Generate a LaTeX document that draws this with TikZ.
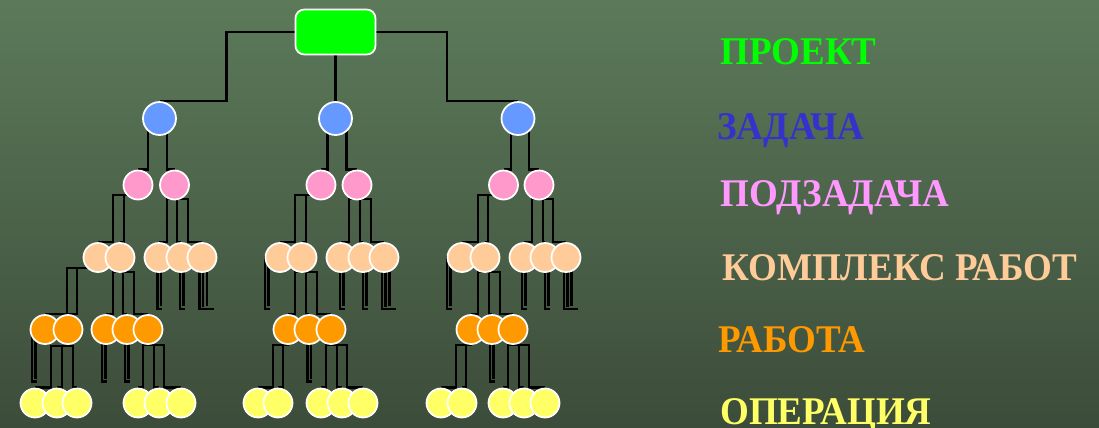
\documentclass[tikz,border=0pt]{standalone}
\usepackage{fontspec}
\setmainfont{Liberation Serif}
\pgfdeclarelayer{backdrop}
\pgfdeclarelayer{wires}
\pgfsetlayers{backdrop,wires,main}
\definecolor{bgtop}{RGB}{92,122,90}
\definecolor{bgbot}{RGB}{60,76,58}
\definecolor{cproj}{RGB}{0,255,0}
\definecolor{ctask}{RGB}{102,153,255}
\definecolor{ctasktxt}{RGB}{51,51,204}
\definecolor{csub}{RGB}{255,153,204}
\definecolor{csubtxt}{RGB}{255,153,255}
\definecolor{cpack}{RGB}{255,204,153}
\definecolor{cwork}{RGB}{255,153,0}
\definecolor{cop}{RGB}{255,255,102}
% parent -> child elbow connector through a bus point offset from the parent
\newcommand\bus[4]{\draw[wire] (#1.center) |- ([shift={(#3,#4)}]#1.center) |- (#2.north);}
% short open connector hanging below a node
\newcommand\dangle[3]{%
  \draw[wire] (#1.center) -| ([shift={(#2,#3)}]#1.center) -- ++(4.5,0);
  \draw[wire] (#1.center) -| ([shift={(#2+3.5,#3-3)}]#1.center);}
\newcommand\dangletriple[3]{%
  \draw[wire] (#1.center) -| ([shift={(#2,#3)}]#1.center) -- ++(14,0);
  \draw[wire] (#1.center) -| ([shift={(#2+3.5,#3-2)}]#1.center);
  \draw[wire] (#1.center) -| ([shift={(#2+7.5,#3-3)}]#1.center);}
\newcommand\legendtext[1]{\scalebox{0.945}[1]{#1}}
\begin{document}
\begin{tikzpicture}[x=0.02cm,y=-0.02cm,
  wire/.style={draw=black,line width=1.4pt},
  ball/.style={circle,draw=white,line width=1pt,inner sep=0pt,minimum size=0.58cm},
  task/.style={ball,fill=ctask,minimum size=0.66cm},
  sub/.style={ball,fill=csub},
  pack/.style={ball,fill=cpack},
  work/.style={ball,fill=cwork},
  op/.style={ball,fill=cop},
  legend/.style={anchor=base west,inner sep=0pt,font=\fontsize{22.3}{26}\selectfont\bfseries}]
\begin{pgfonlayer}{backdrop}
  \shade[top color=bgtop,bottom color=bgbot] (0,0) rectangle (1099,427);
\end{pgfonlayer}
\useasboundingbox (0,0) rectangle (1099,427);

% project
\node[draw=white,line width=1pt,fill=cproj,rounded corners=5pt,minimum width=1.6cm,minimum height=0.9cm,inner sep=0pt] (pr) at (335.5,32) {};

% tasks
\node[task] (b1) at (159.5,118.5) {};
\node[task] (b2) at (335.5,118.5) {};
\node[task] (b3) at (518,118.5) {};

% subtasks
\node[sub] (pa1) at (138,185) {};
\node[sub] (pa2) at (174.5,185) {};
\node[sub] (pb1) at (321,185) {};
\node[sub] (pb2) at (357,185) {};
\node[sub] (pc1) at (503.5,185) {};
\node[sub] (pc2) at (539,185) {};

% work packages
\foreach \n/\x in {qa1/98,qa2/120,qa3/159,qa4/181,qa5/202,
                   qb1/280,qb2/302,qb3/341,qb4/363,qb5/384,
                   qc1/462,qc2/485,qc3/524,qc4/545,qc5/566}
  \node[pack] (\n) at (\x,257.5) {};

% works
\foreach \n/\x in {oa1/45,oa2/68,oa3/106,oa4/127,oa5/148,
                   ob1/288,ob2/309,ob3/331,
                   oc1/471,oc2/492,oc3/513}
  \node[work] (\n) at (\x,329.5) {};

% operations
\foreach \n/\x in {ya1/35,ya2/57,ya3/77,ya4/138,ya5/159,ya6/181,
                   yb1/258,yb2/278,yb3/321,yb4/342,yb5/363,
                   yc1/441,yc2/462,yc3/503,yc4/524,yc5/545}
  \node[op] (\n) at (\x,403) {};

\begin{pgfonlayer}{wires}
  % project -> tasks
  \draw[wire] (pr.center) -| ([shift={(-109,34)}]pr.center) |- (b1.north);
  \draw[wire] (pr.center) -- (b2.north);
  \draw[wire] (pr.center) -| ([shift={(111.5,34)}]pr.center) |- (b3.north);
  % tasks -> subtasks
  \bus{b1}{pa1}{-11.5}{0} \bus{b1}{pa2}{7.5}{0}
  \bus{b2}{pb1}{-8}{0}    \bus{b2}{pb2}{11}{0}
  \bus{b3}{pc1}{-7}{0}    \bus{b3}{pc2}{11}{0}
  % subtasks -> work packages
  \bus{pa1}{qa1}{-25}{10} \bus{pa1}{qa2}{-14}{10}
  \bus{pa2}{qa3}{-7.5}{14} \bus{pa2}{qa4}{2.5}{14} \bus{pa2}{qa5}{13.5}{14}
  \bus{pb1}{qb1}{-26}{10} \bus{pb1}{qb2}{-15}{10}
  \bus{pb2}{qb3}{-8}{14} \bus{pb2}{qb4}{3}{14} \bus{pb2}{qb5}{14}{14}
  \bus{pc1}{qc1}{-25.5}{10} \bus{pc1}{qc2}{-15.5}{10}
  \bus{pc2}{qc3}{-7}{14} \bus{pc2}{qc4}{4}{14} \bus{pc2}{qc5}{14}{14}
  % work packages -> works
  \bus{qa1}{oa1}{-31}{10.5} \bus{qa1}{oa2}{-21}{10.5}
  \bus{qa2}{oa3}{-7}{14.5} \bus{qa2}{oa4}{3}{14.5} \bus{qa2}{oa5}{14}{14.5}
  \bus{qb2}{ob1}{-7}{14.5} \bus{qb2}{ob2}{4}{14.5} \bus{qb2}{ob3}{15}{14.5}
  \bus{qc2}{oc1}{-7}{14.5} \bus{qc2}{oc2}{4}{14.5} \bus{qc2}{oc3}{15}{14.5}
  \dangle{qa3}{-1.5}{51.5} \dangle{qa4}{-1}{51.5} \dangletriple{qa5}{-2.5}{51.5}
  \dangle{qb1}{-15}{51.5} \dangle{qb3}{-1}{51.5} \dangle{qb4}{0}{51.5} \dangletriple{qb5}{-2}{51.5}
  \dangle{qc1}{-15}{51.5} \dangle{qc3}{-2}{51.5} \dangle{qc4}{0}{51.5} \dangletriple{qc5}{-2}{51.5}
  % works -> operations
  \bus{oa2}{ya1}{-17}{16.5} \bus{oa2}{ya2}{-6}{16.5} \bus{oa2}{ya3}{5}{16.5}
  \bus{oa5}{ya4}{-5}{15.5} \bus{oa5}{ya5}{6}{15.5} \bus{oa5}{ya6}{16}{15.5}
  \bus{ob1}{yb1}{-15}{15.5} \bus{ob1}{yb2}{-5}{15.5}
  \bus{ob3}{yb3}{-5}{15.5} \bus{ob3}{yb4}{6}{15.5} \bus{ob3}{yb5}{16}{15.5}
  \bus{oc1}{yc1}{-15}{15.5} \bus{oc1}{yc2}{-5}{15.5}
  \bus{oc3}{yc3}{-5}{15.5} \bus{oc3}{yc4}{6}{15.5} \bus{oc3}{yc5}{16}{15.5}
  \dangle{oa1}{-13}{52} \dangle{oa3}{-4}{52} \dangle{oa4}{-2}{52}
  \dangle{ob2}{-1.7}{52} \dangle{oc2}{-2}{52}
\end{pgfonlayer}

% legend
\node[legend,text=cproj]    (l1) at (720,64)  {\legendtext{ПРОЕКТ}};
\node[legend,text=ctasktxt] (l2) at (717,139) {\legendtext{ЗАДАЧА}};
\node[legend,text=csubtxt]  (l3) at (720,206) {\legendtext{ПОДЗАДАЧА}};
\node[legend,text=cpack]    (l4) at (722,280) {\legendtext{КОМПЛЕКС РАБОТ}};
\node[legend,text=cwork]    (l5) at (718,352) {\legendtext{РАБОТА}};
\node[legend,text=cop]      (l6) at (720,424) {\legendtext{ОПЕРАЦИЯ}};
\end{tikzpicture}
\end{document}
